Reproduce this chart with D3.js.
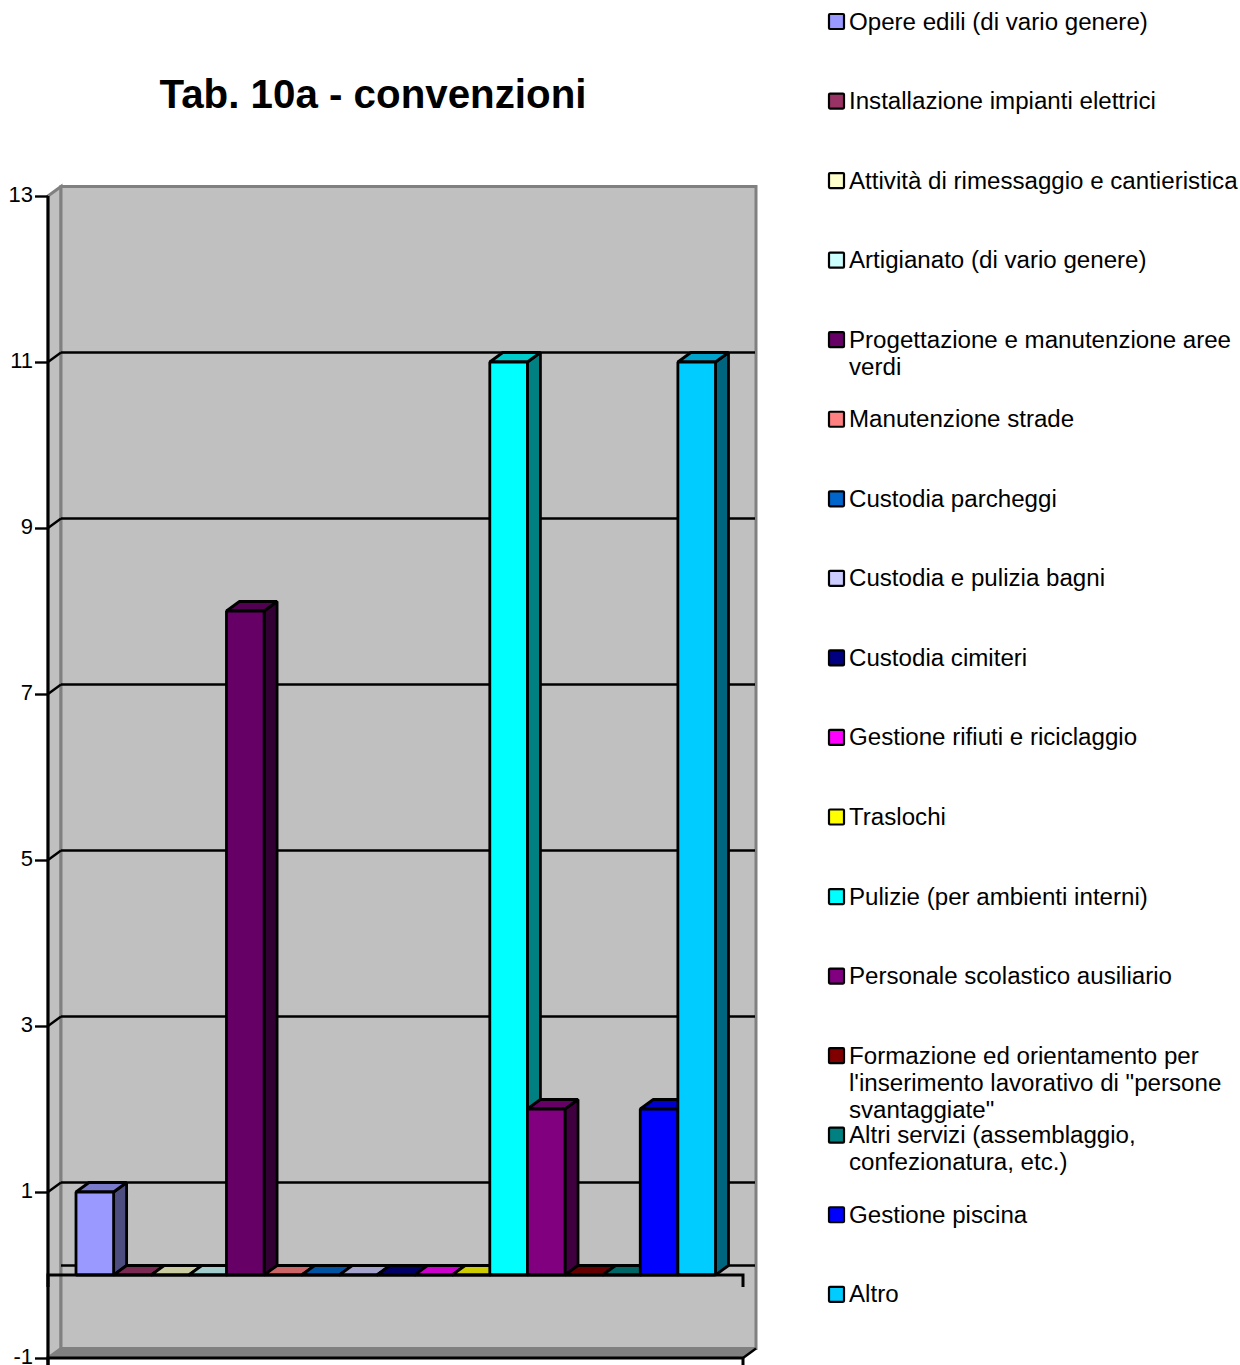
<!DOCTYPE html>
<html><head><meta charset="utf-8">
<style>html,body{margin:0;padding:0;background:#fff}svg{display:block}text{font-family:"Liberation Sans",Arial,sans-serif;fill:#000}</style>
<script src="https://cdn.jsdelivr.net/npm/d3@7"></script></head><body>
<svg id="c" width="1240" height="1365"></svg>
<script>
const title = "Tab. 10a - convenzioni";
const categories = ["Opere edili (di vario genere)","Installazione impianti elettrici","Attività di rimessaggio e cantieristica","Artigianato (di vario genere)","Progettazione e manutenzione aree verdi","Manutenzione strade","Custodia parcheggi","Custodia e pulizia bagni","Custodia cimiteri","Gestione rifiuti e riciclaggio","Traslochi","Pulizie (per ambienti interni)","Personale scolastico ausiliario","Formazione ed orientamento per l'inserimento lavorativo di \"persone svantaggiate\"","Altri servizi (assemblaggio, confezionatura, etc.)","Gestione piscina","Altro"];
const legendLines = [["Opere edili (di vario genere)"],["Installazione impianti elettrici"],["Attività di rimessaggio e cantieristica"],["Artigianato (di vario genere)"],["Progettazione e manutenzione aree","verdi"],["Manutenzione strade"],["Custodia parcheggi"],["Custodia e pulizia bagni"],["Custodia cimiteri"],["Gestione rifiuti e riciclaggio"],["Traslochi"],["Pulizie (per ambienti interni)"],["Personale scolastico ausiliario"],["Formazione ed orientamento per","l'inserimento lavorativo di \"persone","svantaggiate\""],["Altri servizi (assemblaggio,","confezionatura, etc.)"],["Gestione piscina"],["Altro"]];
const values = [1,0,0,0,8,0,0,0,0,0,0,11,2,0,0,2,11];
const colors = ["#9999FF","#993366","#FFFFCC","#CCFFFF","#660066","#FF8080","#0066CC","#CCCCFF","#000080","#FF00FF","#FFFF00","#00FFFF","#800080","#800000","#008080","#0000FF","#00CCFF"];
const yTicks = [-1,1,3,5,7,9,11,13];

const svg = d3.select("#c");
const y = d3.scaleLinear().domain([-1,13]).range([1358,196]);
const x = d3.scaleBand().domain(categories).range([76,715.5]);
const dx = 13, dy = -9.5, L = 48, R = 743;
const line = pts => "M" + pts.map(p => p.join(",")).join("L") + "Z";
const shade = (c,k) => { const r = d3.rgb(c); return d3.rgb(r.r*k, r.g*k, r.b*k).formatHex(); };

svg.append("text").attr("x",373).attr("y",108).attr("text-anchor","middle")
  .attr("font-size",40.3).attr("font-weight","bold").text(title);

// walls
const wallTop = y(13), wallBot = y(-1);
svg.append("path").attr("d",line([[L,wallTop],[L+dx,wallTop+dy],[L+dx,wallBot+dy],[L,wallBot]])).attr("fill","#c0c0c0").attr("stroke","#808080").attr("stroke-width",3);
svg.append("rect").attr("x",L+dx).attr("y",wallTop+dy).attr("width",R-L).attr("height",wallBot-wallTop)
  .attr("fill","#c0c0c0").attr("stroke","#808080").attr("stroke-width",3);
svg.append("path").attr("d",line([[L,wallBot],[L+dx,wallBot+dy],[R+dx,wallBot+dy],[R,wallBot]])).attr("fill","#808080").attr("stroke","#808080").attr("stroke-width",1);

// gridlines on the back wall and the diagonals on the left wall
const gridVals = yTicks.filter(v => v > -1 && v < 13);
svg.selectAll(".g").data(gridVals).join("line").attr("x1",L+dx).attr("x2",R+dx-1)
  .attr("y1",d=>y(d)+dy).attr("y2",d=>y(d)+dy).attr("stroke","#000").attr("stroke-width",2.6);
svg.selectAll(".d").data(gridVals).join("line").attr("x1",L).attr("x2",L+dx)
  .attr("y1",d=>y(d)).attr("y2",d=>y(d)+dy).attr("stroke","#000").attr("stroke-width",2.4);
svg.append("line").attr("x1",L+dx).attr("x2",R+dx-1).attr("y1",y(0)+dy).attr("y2",y(0)+dy).attr("stroke","#000").attr("stroke-width",2.6);
svg.append("line").attr("x1",R).attr("x2",R+dx).attr("y1",wallBot).attr("y2",wallBot+dy).attr("stroke","#000").attr("stroke-width",2.4);

// bars
const bars = svg.selectAll(".bar").data(categories.map((c,i)=>({c,v:values[i],col:colors[i]}))).join("g");
bars.each(function(d){
  const g = d3.select(this), x0 = x(d.c), x1 = x0 + x.bandwidth(), t = y(d.v), b = y(0);
  const add = (pts,f) => g.append("path").attr("d",line(pts)).attr("fill",f).attr("stroke","#000").attr("stroke-width",2.8).attr("stroke-linejoin","bevel");
  add([[x1,b],[x1+dx,b+dy],[x1+dx,t+dy],[x1,t]], shade(d.col,.5));
  add([[x0,t],[x0+dx,t+dy],[x1+dx,t+dy],[x1,t]], shade(d.col,.8));
  if (d.v > 0) add([[x0,t],[x1,t],[x1,b],[x0,b]], d.col);
});

// axes
const yAxis = g => g.attr("transform",`translate(${L},0)`).call(d3.axisLeft(y).tickValues(yTicks).tickSize(13).tickPadding(2).tickFormat(d => String(d)));
const gy = svg.append("g").call(yAxis);
gy.select(".domain").attr("stroke","#000").attr("stroke-width",3).attr("d",`M0,${y(13)}V1365`);
gy.selectAll(".tick line").attr("stroke","#000").attr("stroke-width",2.4);
gy.selectAll("text").attr("font-size",22).attr("font-family",'"Liberation Sans"').attr("fill","#000").attr("dy","0.25em");

const axisPath = yv => svg.append("path").attr("d",`M${L},${y(yv)+12}V${y(yv)}H${R}V${y(yv)+12}`).attr("fill","none").attr("stroke","#000").attr("stroke-width",3);
axisPath(0); axisPath(-1);

// legend
const leg = svg.selectAll(".lg").data(legendLines).join("g").attr("transform",(d,i)=>`translate(828,${21+i*79.55})`);
leg.append("rect").attr("x",1).attr("y",-7).attr("width",15).attr("height",15).attr("rx",1).attr("fill",(d,i)=>colors[i]).attr("stroke","#000").attr("stroke-width",2.2);
leg.each(function(d){
  d3.select(this).selectAll("text").data(d).join("text").attr("x",21).attr("y",(l,i)=>8.5+i*27).attr("font-size",24.12).text(l=>l);
});
</script></body></html>
